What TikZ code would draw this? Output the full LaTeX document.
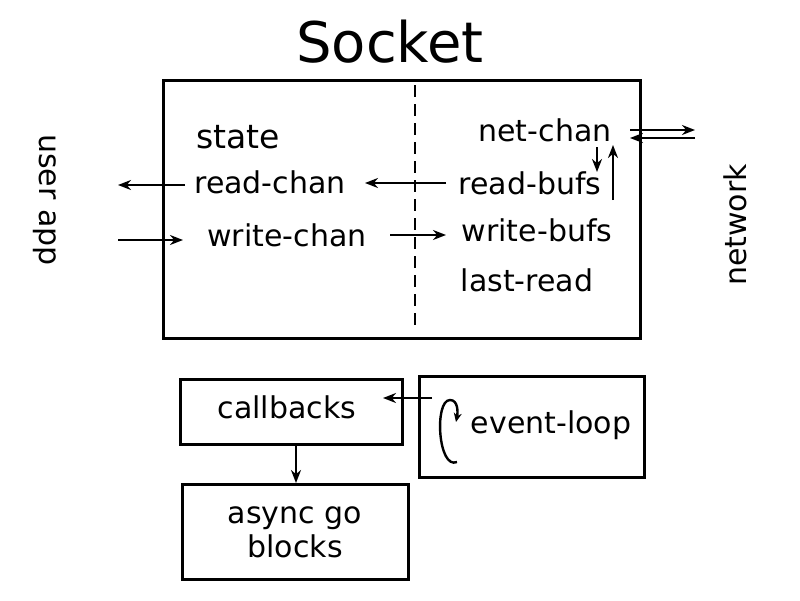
\documentclass[tikz,border=0pt]{standalone}
\usepackage{fontspec}
\usetikzlibrary{arrows.meta}
\setmainfont{DejaVu Sans}
\begin{document}
\begin{tikzpicture}[x=1pt,y=-1pt,
  lbl/.style={font=\fontsize{30}{30}\selectfont, inner sep=0pt},
  box/.style={draw, line width=3pt},
  ar/.style={-{Stealth[length=13pt,width=10pt]}, line width=2.4pt}]
\useasboundingbox (0,0) rectangle (800,600);
\fill[white] (0,0) rectangle (800,600);
\node[font=\fontsize{56}{56}\selectfont] (title) at (390,42) {Socket};
\draw[box] (163,80) rectangle (640,338);
\draw[line width=2.4pt, dash pattern=on 12pt off 7pt] (415,85) -- (415,330);
\node[lbl,font=\fontsize{33}{33}\selectfont] (state) at (238,137) {state};
\node[lbl] (rc) at (270,182) {read-chan};
\node[lbl] (wc) at (287,235) {write-chan};
\node[lbl] (nc) at (545,130) {net-chan};
\node[lbl] (rb) at (530,183) {read-bufs};
\node[lbl] (wb) at (537,230) {write-bufs};
\node[lbl] (lr) at (527,280) {last-read};
\node[lbl, rotate=-90] (ua) at (45,200) {user app};
\node[lbl, rotate=90] (nw) at (735,225) {network};
\coordinate (uo) at (118,185);
\coordinate (ui) at (118,240);
\draw[ar] (185,185) -- (uo);
\draw[ar] (ui) -- (183,240);
\draw[ar] (446,183) -- (365,183);
\draw[ar] (390,235) -- (446,235);
\coordinate (n1) at (695,130);
\coordinate (n2) at (695,138);
\draw[ar] (630,130) -- (n1);
\draw[ar] (n2) -- (630,138);
\draw[ar] (597,147) -- (597,172);
\draw[ar] (613,200) -- (613,145);
\node[box, minimum width=222pt, minimum height=65pt] (cb) at (291,412) {};
\node[lbl] at (287,407) {callbacks};
\node[box, minimum width=225pt, minimum height=101pt] (el) at (532,427) {};
\node[lbl] at (551,425) {event-loop};
\node[box, minimum width=226pt, minimum height=95pt, align=center, lbl, font=\fontsize{30}{34}\selectfont] (ag) at (295,532) {async go\\blocks};
\draw[ar] (432,398) -- (383,398);
\draw[ar] (296,445) -- (ag.north -| 296,0);
\draw[line width=2.4pt, -{Stealth[length=9pt,width=8pt]}] (457,462) .. controls (438,470) and (434,400) .. (450,400) .. controls (458,400) and (458,412) .. (456,422);
\end{tikzpicture}
\end{document}
